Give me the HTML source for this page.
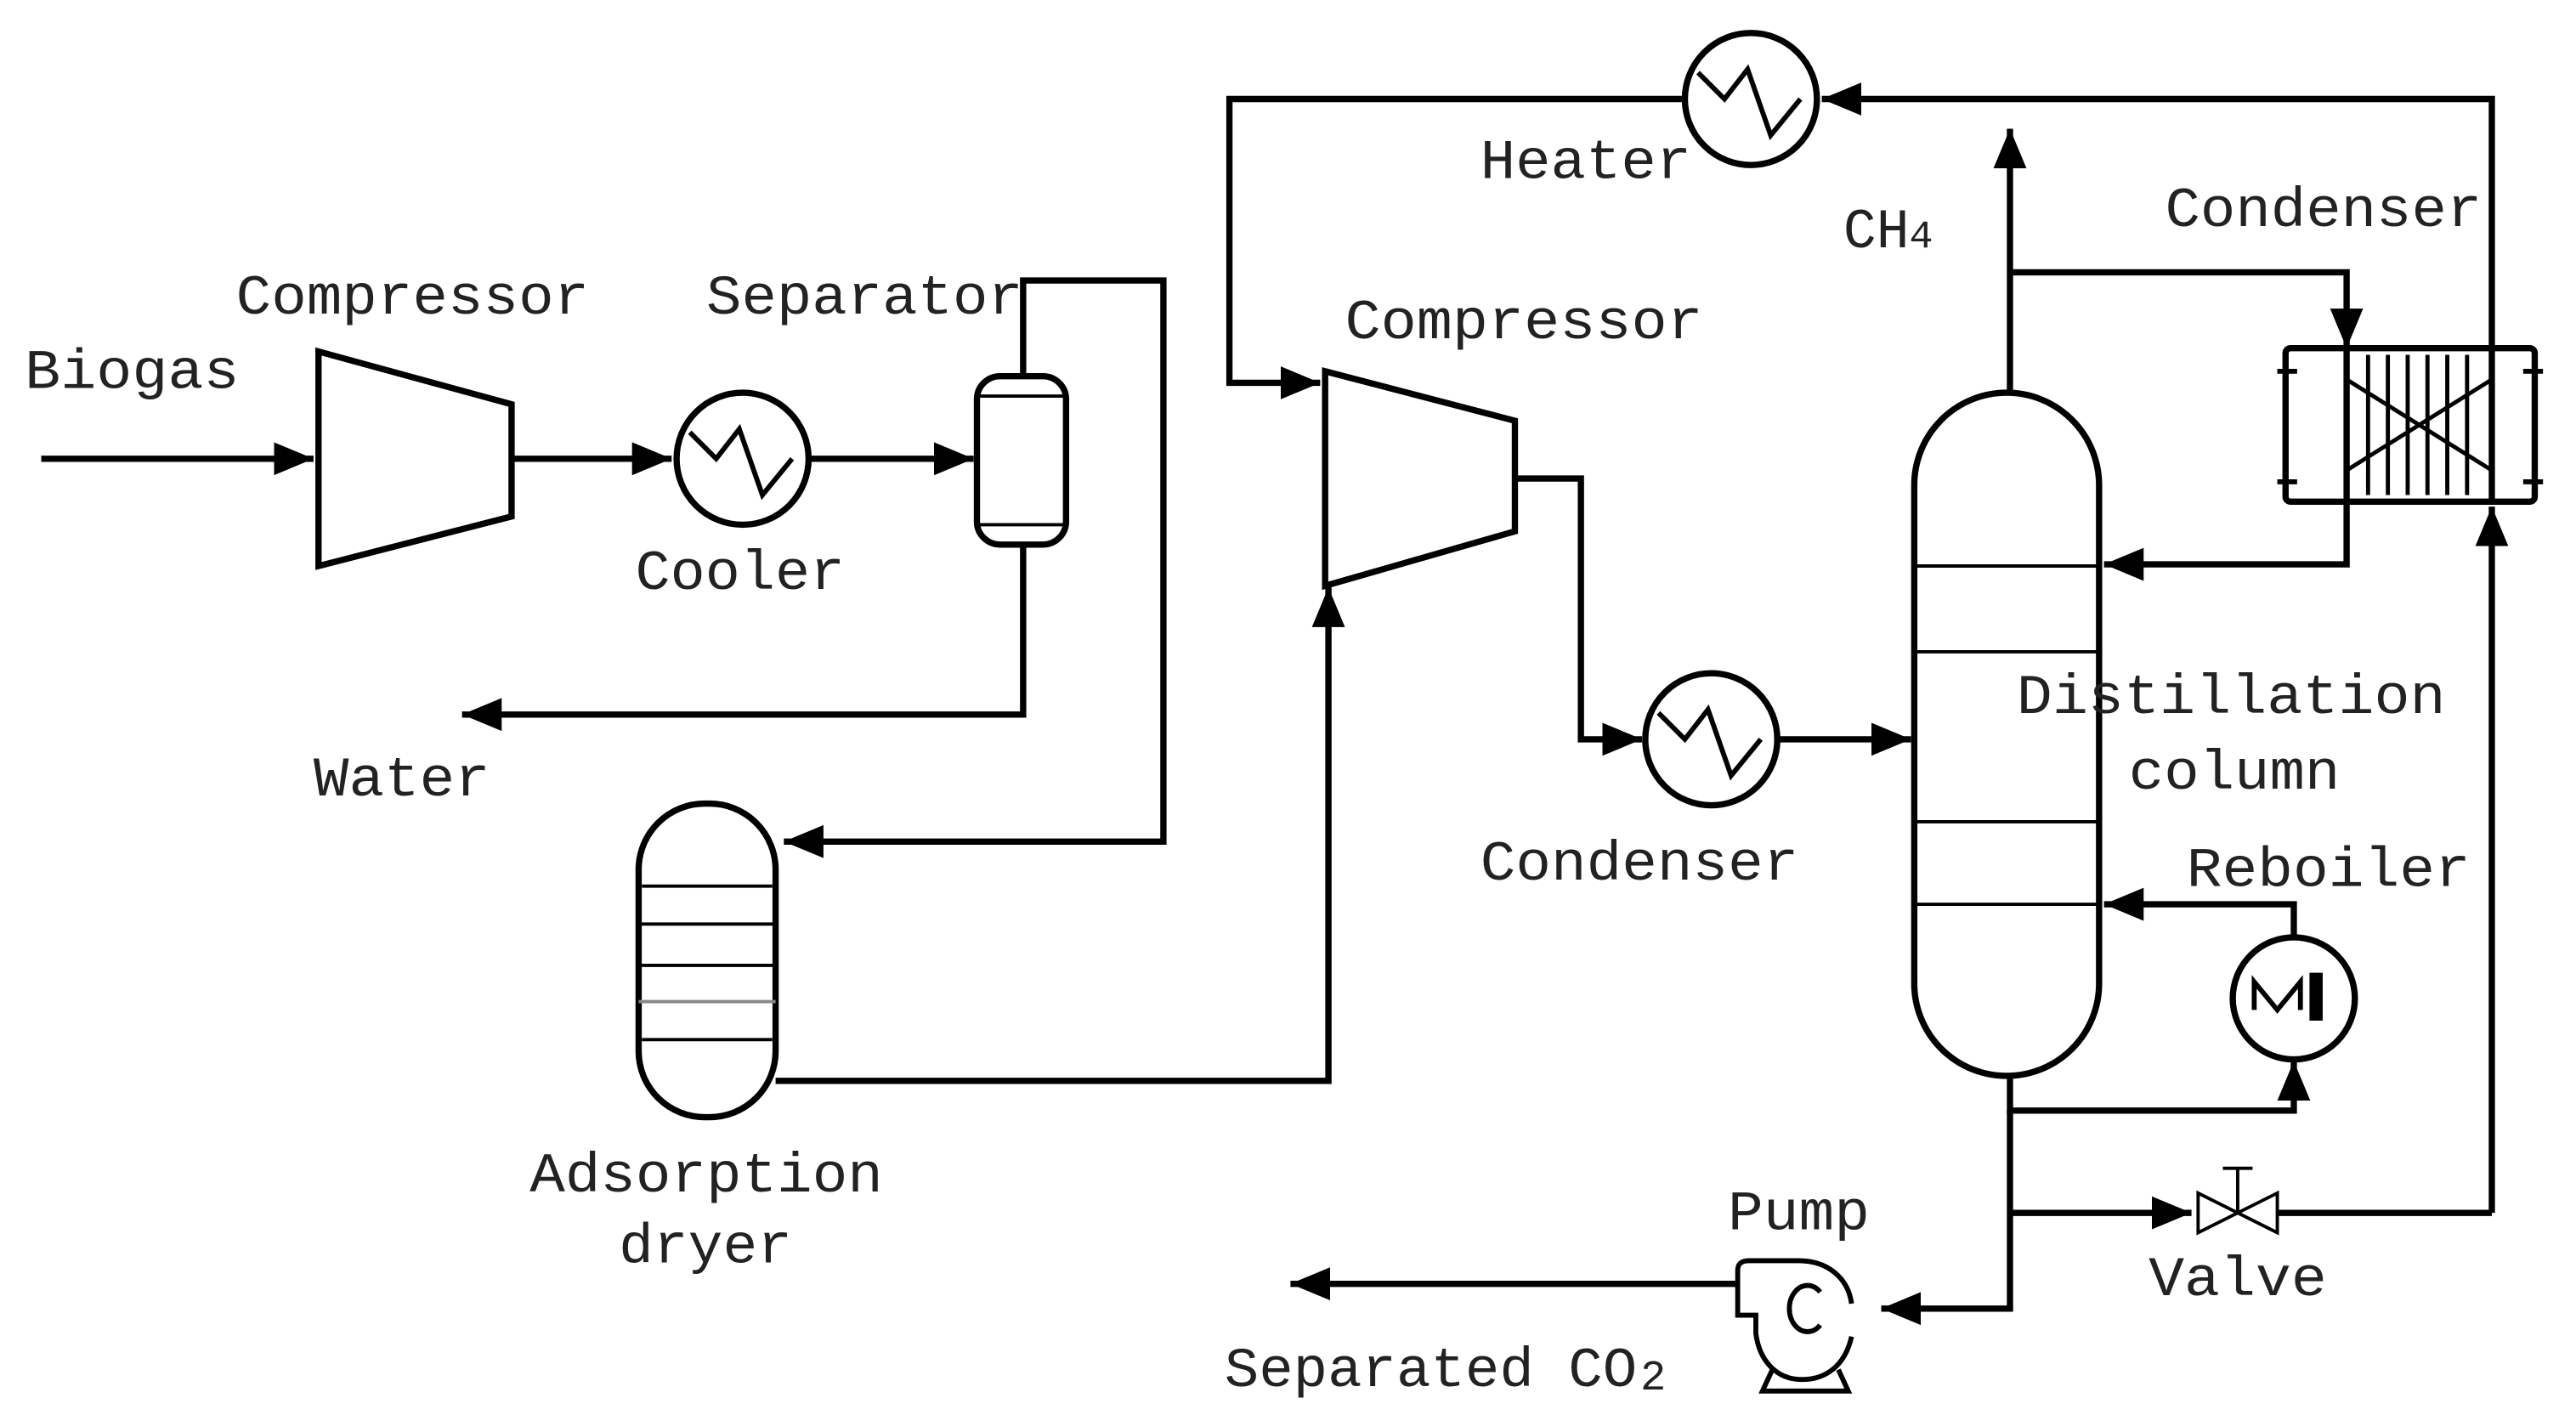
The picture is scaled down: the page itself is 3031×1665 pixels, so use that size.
<!DOCTYPE html>
<html><head><meta charset="utf-8"><style>
html,body{margin:0;padding:0;background:#fff;}
svg{display:block;}
text{font-family:"Liberation Mono","DejaVu Sans Mono",monospace;font-size:34px;fill:#222;}
</style></head><body>
<svg width="3031" height="1665" viewBox="0 0 1561 857.5" preserveAspectRatio="none" xmlns="http://www.w3.org/2000/svg">
<defs>
<marker id="a" markerUnits="userSpaceOnUse" markerWidth="26" markerHeight="22" refX="24" refY="11" orient="auto">
<path d="M0,1 L24,11 L0,21 Z" fill="#000"/>
</marker>
</defs>
<g fill="none" stroke="#000" stroke-width="3.8" stroke-linejoin="miter">
<line x1="25" y1="278" x2="190" y2="278" marker-end="url(#a)"/>
<path d="M193,213 L310,245 L310,313 L193,343 Z"/>
<line x1="310" y1="278" x2="407" y2="278" marker-end="url(#a)"/>
<circle cx="450" cy="278" r="40"/>
<path d="M418,262 L434,278 L448,260 L462,300 L480,278" stroke-width="3"/>
<line x1="490" y1="278" x2="590" y2="278" marker-end="url(#a)"/>
<rect x="592" y="228" width="54" height="102" rx="14"/>
<line x1="592" y1="240" x2="646" y2="240" stroke-width="2"/>
<line x1="592" y1="318" x2="646" y2="318" stroke-width="2"/>
<path d="M620,228 L620,170 L705,170 L705,510 L475,510" marker-end="url(#a)"/>
<path d="M620,330 L620,433 L280,433" marker-end="url(#a)"/>
<rect x="387" y="487" width="83" height="190" rx="40"/>
<g stroke-width="2"><line x1="389" y1="537" x2="468" y2="537"/><line x1="387" y1="560" x2="470" y2="560"/><line x1="387" y1="585" x2="470" y2="585"/><line x1="387" y1="607" x2="470" y2="607" stroke="#888"/><line x1="389" y1="630" x2="468" y2="630"/></g>
<path d="M470,655 L805,655 L805,356" marker-end="url(#a)"/>
<path d="M803,225 L918,255 L918,322 L803,355 Z"/>
<path d="M1020,60 L745,60 L745,232 L800,232" marker-end="url(#a)"/>
<circle cx="1061" cy="60" r="40"/>
<path d="M1029,44 L1045,60 L1059,42 L1073,82 L1091,60" stroke-width="3"/>
<path d="M1510,212 L1510,60 L1104,60" marker-end="url(#a)"/>
<path d="M918,290 L958,290 L958,448 L995,448" marker-end="url(#a)"/>
<circle cx="1037" cy="448" r="40"/>
<path d="M1005,432 L1021,448 L1035,430 L1049,470 L1067,448" stroke-width="3"/>
<line x1="1077" y1="448" x2="1158" y2="448" marker-end="url(#a)"/>
<rect x="1160" y="238" width="112" height="414" rx="56"/>
<g stroke-width="2"><line x1="1160" y1="343" x2="1272" y2="343"/><line x1="1160" y1="395" x2="1272" y2="395"/><line x1="1160" y1="498" x2="1272" y2="498"/><line x1="1160" y1="548" x2="1272" y2="548"/></g>
<line x1="1218" y1="238" x2="1218" y2="78" marker-end="url(#a)"/>
<path d="M1218,165 L1422,165 L1422,211" marker-end="url(#a)"/>
<rect x="1385" y="211" width="151" height="93" rx="3"/>
<line x1="1422" y1="211" x2="1422" y2="304"/>
<line x1="1510" y1="211" x2="1510" y2="304"/>
<g stroke-width="2.5"><line x1="1435" y1="215" x2="1435" y2="300"/><line x1="1447" y1="215" x2="1447" y2="300"/><line x1="1459" y1="215" x2="1459" y2="300"/><line x1="1471" y1="215" x2="1471" y2="300"/><line x1="1483" y1="215" x2="1483" y2="300"/><line x1="1495" y1="215" x2="1495" y2="300"/>
<line x1="1422" y1="230" x2="1510" y2="285"/><line x1="1422" y1="285" x2="1510" y2="230"/></g>
<g stroke-width="3"><line x1="1380" y1="225" x2="1392" y2="225"/><line x1="1380" y1="292" x2="1392" y2="292"/><line x1="1529" y1="225" x2="1541" y2="225"/><line x1="1529" y1="292" x2="1541" y2="292"/></g>
<path d="M1422,304 L1422,342 L1275,342" marker-end="url(#a)"/>
<path d="M1510,735 L1510,307" marker-end="url(#a)"/>
<circle cx="1390" cy="605" r="37"/>
<path d="M1366,612 L1366,595 L1380,612 L1394,595 L1394,612" stroke-width="3"/>
<rect x="1400" y="590" width="7" height="28" fill="#000" stroke-width="1"/>
<path d="M1390,568 L1390,548 L1275,548" marker-end="url(#a)"/>
<path d="M1218,652 L1218,673 L1390,673 L1390,643" marker-end="url(#a)"/>
<path d="M1218,673 L1218,793 L1140,793" marker-end="url(#a)"/>
<line x1="1218" y1="735" x2="1328" y2="735" marker-end="url(#a)"/>
<path d="M1332,723 L1380,747 L1380,723 L1332,747 Z" stroke-width="2"/>
<line x1="1356" y1="735" x2="1356" y2="708" stroke-width="2"/>
<line x1="1347" y1="708" x2="1365" y2="708" stroke-width="2"/>
<line x1="1380" y1="735" x2="1510" y2="735"/>
<!-- pump -->
<path d="M1122,810 C1118,828 1106,836 1092,836 C1076,836 1066,824 1064,808 L1064,797 L1053,797 L1053,770 C1053,766 1055,764 1060,764 L1090,764 C1108,764 1120,775 1122,790" stroke-width="3"/>
<path d="M1074,830 L1068,843 L1120,843 L1114,830" stroke-width="3"/>
<path d="M1103,783 A11,14 0 1 0 1103,803" stroke-width="3"/>
<line x1="1053" y1="778" x2="782" y2="778" marker-end="url(#a)"/>
</g>
<g>
<text x="15" y="235" textLength="130" lengthAdjust="spacingAndGlyphs">Biogas</text>
<text x="143" y="190" textLength="214" lengthAdjust="spacingAndGlyphs">Compressor</text>
<text x="428" y="190" textLength="192" lengthAdjust="spacingAndGlyphs">Separator</text>
<text x="385" y="357" textLength="127" lengthAdjust="spacingAndGlyphs">Cooler</text>
<text x="190" y="482" textLength="107" lengthAdjust="spacingAndGlyphs">Water</text>
<text x="321" y="722" textLength="214" lengthAdjust="spacingAndGlyphs">Adsorption</text>
<text x="375" y="765" textLength="105" lengthAdjust="spacingAndGlyphs">dryer</text>
<text x="815" y="205" textLength="217" lengthAdjust="spacingAndGlyphs">Compressor</text>
<text x="897" y="108" textLength="128" lengthAdjust="spacingAndGlyphs">Heater</text>
<text x="897" y="533" textLength="193" lengthAdjust="spacingAndGlyphs">Condenser</text>
<text x="1117" y="150" textLength="40" lengthAdjust="spacingAndGlyphs">CH</text><text x="1157" y="150" style="font-size:24px">4</text>
<text x="1312" y="137" textLength="192" lengthAdjust="spacingAndGlyphs">Condenser</text>
<text x="1222" y="432" textLength="260" lengthAdjust="spacingAndGlyphs">Distillation</text>
<text x="1290" y="478" textLength="128" lengthAdjust="spacingAndGlyphs">column</text>
<text x="1325" y="537" textLength="172" lengthAdjust="spacingAndGlyphs">Reboiler</text>
<text x="1047" y="745" textLength="86" lengthAdjust="spacingAndGlyphs">Pump</text>
<text x="1302" y="785" textLength="108" lengthAdjust="spacingAndGlyphs">Valve</text>
<text x="742" y="840" textLength="250" lengthAdjust="spacingAndGlyphs">Separated CO</text><text x="994" y="842" style="font-size:26px">2</text>
</g>
</svg>
</body></html>
